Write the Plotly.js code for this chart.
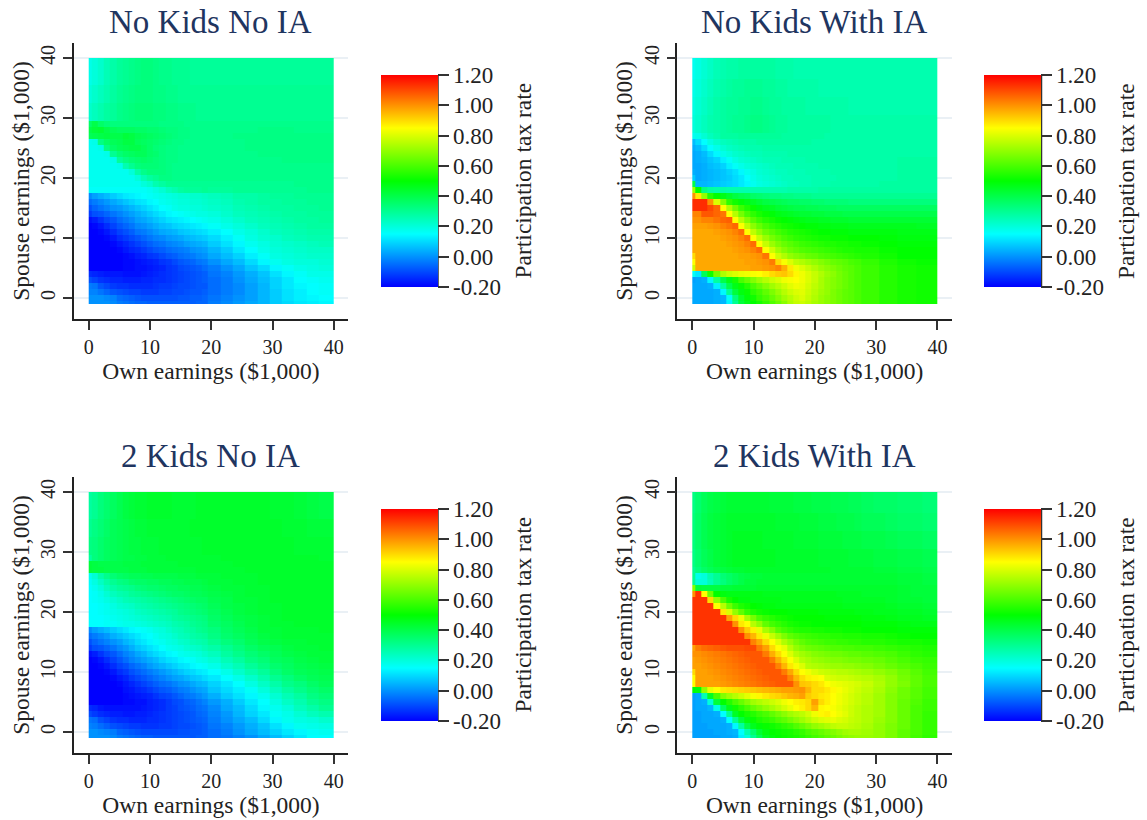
<!DOCTYPE html>
<html><head><meta charset="utf-8">
<script src="https://cdn.plot.ly/plotly-3.0.1.min.js"></script>
<style>html,body{margin:0;padding:0;background:#fff}</style></head>
<body><div id="chart" style="width:1147px;height:820px"></div>
<script>
const panelTitles = ["No Kids No IA","No Kids With IA","2 Kids No IA","2 Kids With IA"];
const xTitle = "Own earnings ($1,000)";
const yTitle = "Spouse earnings ($1,000)";
const barTitle = "Participation tax rate";
const barTickVals = [-0.2,0,0.2,0.4,0.6,0.8,1,1.2];
const barTickText = ["-0.20","0.00","0.20","0.40","0.60","0.80","1.00","1.20"];
const midX = [0,.5,1.5,2.5,3.5,4.5,5.5,6.5,7.5,8.5,9.5,10.5,11.5,12.5,13.5,14.5,15.5,16.5,17.5,18.5,19.5,21.5,23.5,25.5,27.5,29.5,31.5,33.5,35.5,37.5,40];
const midY = [-1,-.5,.5,1.5,2.5,3.5,4.5,5.5,6.5,7.5,8.5,9.5,10.5,11.5,12.5,13.5,14.5,15.5,16.5,17.5,18.5,19.5,20.5,21.5,22.5,23.5,24.5,25.5,26.5,27.5,28.5,29.5,32.5,35.5,40];
const fineX = [0,.5,1.5,2.5,3.5,4.5,5.5,6.5,7.5,8.5,9.5,10.5,11.5,12.5,13.5,14.5,15.5,16.5,17.5,18.5,19.5,20.5,21.5,22.5,23.5,24.5,25.5,26.5,27.5,30.5,33.5,36.5,40];
const fineX2 = [0,.5,1.5,2.5,3.5,4.5,5.5,6.5,7.5,8.5,9.5,10.5,11.5,12.5,13.5,14.5,15.5,16.5,17.5,18.5,19.5,20.5,21.5,22.5,23.5,24.5,25.5,26.5,27.5,29.5,31.5,33.5,35.5,37.5,40];
const fineY = [-1,-.5,.5,1.5,2.5,3.5,4.5,5.5,6.5,7.5,8.5,9.5,10.5,11.5,12.5,13.5,14.5,15.5,16.5,17.5,18.5,19.5,20.5,21.5,22.5,23.5,24.5,25.5,26.5,27.5,30.5,33.5,36.5,40];

// values in percent
const noKidsNoIA = [
[0,0,0,0,-1,-3,-4,-5,-6,-6,-7,-7,-7,-7,-7,-7,-7,-7,-6,-6,-3,-1,1,3,5,8,10,12,13,14],
[0,0,0,-1,-2,-5,-6,-7,-8,-9,-9,-9,-9,-9,-9,-8,-8,-7,-7,-6,-4,-2,0,2,5,8,11,13,14,15],
[-2,-2,-4,-6,-8,-9,-10,-11,-11,-12,-12,-12,-11,-11,-10,-10,-9,-8,-8,-7,-5,-3,-1,2,5,8,11,13,15,16],
[-3,-4,-8,-10,-12,-13,-13,-14,-14,-14,-14,-13,-12,-12,-11,-10,-10,-9,-8,-8,-5,-3,-1,2,5,9,12,14,15,16],
[-9,-11,-13,-14,-15,-15,-16,-16,-16,-15,-15,-14,-14,-13,-12,-11,-10,-9,-8,-7,-5,-3,0,3,6,9,12,15,16,17],
[-14,-15,-16,-17,-17,-17,-18,-18,-18,-17,-16,-15,-14,-13,-12,-11,-10,-9,-8,-7,-4,-2,1,4,7,11,14,16,18,18],
[-20,-20,-20,-20,-20,-20,-19,-19,-18,-18,-17,-16,-15,-13,-12,-10,-9,-8,-7,-5,-3,0,3,7,10,14,16,18,19,20],
[-20,-20,-20,-20,-20,-20,-19,-19,-18,-17,-16,-15,-13,-12,-10,-8,-7,-6,-4,-3,0,3,6,10,14,17,19,20,20,21],
[-20,-20,-20,-20,-20,-20,-19,-18,-16,-15,-13,-12,-10,-8,-7,-5,-4,-3,-1,0,3,6,9,13,16,19,20,21,22,22],
[-20,-20,-20,-20,-20,-19,-17,-15,-14,-12,-10,-8,-7,-5,-4,-3,-2,0,1,2,5,8,12,15,18,20,21,22,23,23],
[-20,-20,-20,-20,-19,-17,-15,-13,-11,-9,-7,-5,-4,-2,-1,0,2,3,4,5,8,11,14,17,19,21,22,23,24,25],
[-20,-20,-20,-19,-17,-14,-12,-10,-8,-6,-4,-2,-1,1,2,3,5,6,7,8,10,13,16,19,21,22,24,25,26,26],
[-20,-20,-19,-17,-14,-11,-9,-7,-4,-3,-1,1,3,4,5,7,8,9,10,11,13,15,18,20,22,24,25,26,27,27],
[-20,-19,-17,-14,-11,-8,-6,-4,-1,0,2,4,6,7,9,10,11,12,13,14,16,18,20,22,24,25,26,27,28,28],
[-18,-16,-13,-10,-8,-5,-3,-1,2,3,5,7,9,11,12,13,14,15,16,17,18,20,22,24,25,26,27,28,28,29],
[-12,-9,-8,-6,-4,-2,0,2,4,6,8,10,12,14,15,16,17,18,19,19,20,22,24,25,26,27,28,28,29,29],
[-9,-6,-4,-2,0,1,3,5,7,9,11,13,15,16,18,19,19,20,20,21,22,23,25,26,27,28,28,29,29,30],
[-5,-3,-1,1,3,5,7,9,11,12,14,15,17,18,19,20,20,21,21,22,23,24,26,27,28,28,29,29,30,30],
[-1,2,4,6,8,10,12,13,14,15,16,17,18,19,20,21,21,22,22,23,24,25,27,27,28,29,29,30,30,30],
[16,16,16,16,16,16,16,16,16,16,17,19,21,24,26,28,29,29,29,30,29,29,30,30,30,30,30,30,31,31],
[17,17,17,17,17,17,17,17,17,20,22,26,28,30,30,30,30,30,30,30,30,30,30,30,30,30,30,31,31,31],
[17,17,17,17,17,17,17,17,20,25,28,30,32,32,31,31,31,31,31,31,31,31,31,31,31,31,31,31,31,31],
[17,17,17,17,17,17,17,20,27,31,33,33,33,32,31,31,31,31,31,31,31,31,31,31,31,31,31,31,31,31],
[17,17,17,17,17,18,26,30,33,34,34,34,33,32,31,31,31,31,31,31,31,31,31,31,31,31,31,31,31,31],
[17,17,17,17,18,29,32,34,35,36,35,34,33,32,32,31,31,31,31,31,31,31,31,31,31,31,32,32,32,32],
[17,17,17,18,30,34,36,37,38,38,36,35,33,32,32,31,31,31,31,31,31,31,31,31,32,32,32,32,32,32],
[17,17,18,32,36,38,39,40,40,38,36,34,33,32,32,31,31,31,31,31,31,31,31,32,32,32,32,32,32,32],
[17,18,32,36,38,39,41,41,38,37,36,35,34,33,32,32,31,31,31,31,31,31,31,32,32,32,32,32,32,32],
[38,39,40,41,40,40,42,41,39,38,37,36,35,34,33,32,32,31,31,31,31,31,32,32,32,32,32,32,32,32],
[40,42,43,40,38,37,37,37,36,36,35,35,34,33,33,32,32,31,31,31,31,31,31,31,32,32,32,31,31,31],
[36,40,36,34,33,33,33,33,33,33,33,33,32,32,32,32,31,31,31,31,31,31,31,31,31,31,31,31,31,31],
[22,24,26,28,29,31,32,33,34,34,34,33,33,32,32,31,31,31,30,30,30,30,30,30,30,30,30,30,30,30],
[20,22,24,26,28,30,31,32,33,33,33,32,32,31,31,30,30,30,30,30,30,30,30,30,30,30,30,30,30,30],
[18,20,22,25,27,29,30,31,32,33,33,32,31,31,30,30,30,29,29,29,29,29,29,29,29,29,29,29,29,29]];

const twoKidsNoIA = [
[0,0,0,0,-1,-3,-4,-5,-6,-7,-7,-8,-8,-8,-8,-8,-8,-8,-7,-7,-5,-4,-2,0,3,6,9,12,15,15],
[0,0,-1,-2,-3,-6,-7,-8,-9,-10,-10,-10,-10,-10,-10,-9,-9,-8,-8,-7,-5,-3,0,3,6,9,12,14,16,17],
[-2,-3,-5,-7,-9,-10,-11,-12,-12,-13,-13,-13,-12,-12,-11,-10,-10,-9,-8,-7,-4,-2,1,4,7,11,14,17,18,19],
[-4,-5,-9,-11,-13,-14,-14,-15,-15,-15,-14,-14,-13,-12,-11,-10,-9,-8,-7,-6,-3,0,3,6,10,14,17,19,20,22],
[-10,-12,-14,-15,-16,-16,-17,-17,-16,-16,-15,-14,-13,-12,-11,-10,-9,-8,-6,-5,-2,1,5,9,12,16,18,21,24,26],
[-14,-15,-17,-18,-18,-18,-18,-18,-18,-17,-16,-15,-14,-12,-11,-9,-8,-7,-5,-4,-1,3,6,10,14,17,20,24,27,30],
[-20,-20,-20,-20,-20,-20,-19,-19,-18,-18,-16,-15,-14,-12,-10,-9,-7,-6,-4,-2,1,4,8,12,15,19,23,26,30,32],
[-20,-20,-20,-20,-20,-20,-19,-18,-17,-16,-15,-13,-11,-10,-8,-6,-4,-3,-1,1,4,8,11,14,17,21,25,28,32,34],
[-20,-20,-20,-20,-20,-20,-18,-17,-15,-14,-12,-10,-8,-7,-5,-3,-2,0,2,3,7,10,13,16,20,24,28,31,34,36],
[-20,-20,-20,-20,-20,-19,-17,-15,-13,-11,-9,-7,-5,-4,-2,0,1,3,5,6,9,12,15,19,23,27,31,33,36,38],
[-20,-20,-20,-20,-19,-17,-15,-12,-10,-8,-6,-4,-2,0,2,3,5,7,8,10,12,15,18,22,26,30,33,36,38,39],
[-20,-20,-20,-19,-17,-14,-12,-9,-7,-5,-3,-1,1,3,5,7,9,10,12,13,15,18,22,26,29,33,36,38,39,40],
[-20,-20,-19,-17,-14,-11,-9,-6,-4,-2,1,3,5,7,9,11,12,14,15,16,18,22,25,29,32,35,37,39,40,41],
[-20,-19,-17,-14,-11,-8,-5,-2,0,2,4,6,9,11,12,14,15,16,18,19,21,25,28,32,34,37,38,40,41,42],
[-18,-16,-13,-10,-8,-5,-2,0,3,5,8,10,12,14,15,17,18,19,20,22,24,28,31,34,36,38,40,41,42,42],
[-12,-9,-8,-6,-4,-1,1,4,7,9,11,13,15,17,18,19,21,22,23,25,27,30,33,36,38,39,41,42,42,43],
[-9,-6,-4,-2,0,2,5,7,10,12,14,16,17,19,20,22,23,25,26,27,30,33,35,38,40,41,42,42,43,43],
[-5,-3,-1,1,4,6,8,10,12,14,15,17,19,20,22,24,25,27,28,29,32,35,37,39,41,42,43,43,43,43],
[-1,2,4,6,8,10,12,14,15,16,17,19,20,22,24,25,27,28,30,31,33,36,38,40,42,42,43,43,43,44],
[15,15,15,16,16,17,18,18,19,20,21,22,23,24,26,27,28,30,31,32,35,37,39,41,42,43,43,44,44,44],
[15,15,15,16,17,18,19,20,21,22,23,24,25,26,28,29,30,31,32,33,36,38,40,41,42,43,44,44,44,44],
[15,15,16,17,18,19,20,21,23,24,25,26,27,28,29,31,32,33,34,35,37,39,41,42,43,43,44,44,44,44],
[15,15,16,17,19,21,22,23,25,26,27,28,29,30,31,32,33,34,35,36,38,40,41,42,43,43,44,44,44,44],
[15,16,17,19,21,23,25,26,27,28,29,30,31,32,33,34,35,36,37,37,39,40,42,42,43,44,44,44,44,44],
[15,16,18,21,24,26,27,29,30,31,32,33,34,35,36,36,37,38,38,39,40,41,42,43,43,44,44,44,44,44],
[15,17,20,24,27,29,30,31,33,34,35,35,36,37,37,38,38,39,39,40,41,42,42,43,43,44,44,44,44,44],
[16,19,23,27,30,32,33,35,36,36,37,37,38,38,39,39,40,40,40,41,42,42,43,43,44,44,44,44,44,44],
[17,21,27,31,34,36,37,38,38,39,39,40,40,40,40,41,41,41,42,42,42,43,43,43,44,44,44,44,44,44],
[42,41,41,40,40,40,40,41,41,41,42,42,42,42,42,42,42,42,43,43,43,43,43,44,44,44,44,44,44,44],
[42,41,40,40,40,40,41,41,41,42,42,42,42,42,42,43,43,43,43,43,43,43,44,44,44,44,44,44,44,44],
[28,33,35,37,38,39,40,40,41,41,42,42,42,43,43,43,43,43,43,43,43,44,44,44,44,44,44,44,44,43],
[32,33,35,37,38,39,40,41,41,42,42,42,43,43,43,43,43,43,43,44,44,44,44,44,44,44,44,43,43,43],
[30,32,34,36,38,39,40,41,42,42,43,43,43,43,43,43,43,44,44,44,44,44,44,44,44,44,43,43,42,42],
[28,30,33,35,37,39,41,42,43,43,44,44,44,44,43,43,43,43,44,44,44,44,44,44,44,43,43,42,41,40]];

const noKidsWithIA = [
[3,3,3,3,4,5,14,30,42,47,50,53,57,61,65,69,74,77,78,76,73,71,69,67,65,63,62,60,58,55,53,52],
[3,3,3,3,4,5,16,33,44,49,52,57,60,64,68,72,75,78,80,77,74,71,69,67,65,63,62,60,58,55,53,52],
[3,3,3,3,4,14,30,42,48,51,56,59,63,67,71,75,78,80,81,78,75,72,70,67,65,63,62,60,58,55,53,52],
[3,3,3,4,13,28,40,47,51,55,60,64,68,72,75,78,81,83,82,79,76,73,70,68,66,64,62,60,58,55,53,52],
[2,3,4,14,28,40,47,53,60,64,68,72,75,78,80,83,84,85,83,80,77,73,70,68,66,64,62,60,58,55,53,52],
[16,12,38,52,66,74,78,80,82,83,84,85,87,90,92,93,90,86,83,80,77,74,71,69,66,64,62,60,58,55,53,52],
[78,97,97,97,97,97,97,97,97,97,98,98,99,100,102,96,88,83,80,77,74,71,69,67,65,63,62,60,58,55,53,52],
[85,97,97,97,97,97,97,97,97,98,98,99,100,103,90,84,80,76,74,72,70,68,66,64,63,62,60,59,57,54,52,51],
[90,97,97,97,97,97,97,97,98,98,99,100,104,85,78,74,70,68,66,64,63,61,60,59,58,57,56,55,54,52,50,50],
[97,97,97,97,97,97,97,98,99,100,102,105,85,78,72,68,65,63,61,60,59,58,57,56,55,54,54,53,53,51,50,50],
[97,97,97,97,97,97,98,99,100,102,105,85,77,71,67,64,62,60,58,57,56,55,54,54,53,53,52,52,51,50,49,49],
[97,97,97,97,97,98,99,100,102,105,85,77,71,66,63,60,58,56,55,54,53,52,52,51,51,51,50,50,50,49,48,48],
[97,97,97,97,98,99,100,102,105,85,76,70,65,62,59,57,55,54,53,52,51,50,50,49,49,49,48,48,48,48,47,47],
[98,98,98,99,100,102,104,106,85,76,69,64,60,57,55,53,52,51,50,49,49,48,48,47,47,47,46,46,46,46,46,45],
[100,100,102,102,104,106,107,85,75,68,62,58,55,53,51,50,49,48,47,46,46,45,45,44,44,44,43,43,43,43,43,43],
[102,102,108,108,106,104,85,75,66,60,56,53,51,49,47,46,45,44,43,43,42,42,41,41,41,40,40,40,40,40,40,40],
[114,114,114,110,106,85,74,65,58,54,51,48,46,45,43,42,41,40,40,39,39,38,38,38,37,37,37,37,37,37,37,37],
[114,114,114,100,80,68,56,52,49,47,45,43,41,40,39,38,37,37,36,36,35,35,34,34,34,34,33,33,33,33,33,33],
[100,88,70,55,50,47,44,41,39,38,36,35,34,33,33,32,32,31,31,31,30,30,30,30,30,30,30,30,30,30,30,30],
[72,50,32,28,27,27,26,26,26,26,26,26,26,26,26,26,27,27,27,27,27,28,28,28,28,28,28,28,28,28,28,28],
[40,5,5,6,7,8,9,10,12,14,17,19,20,21,22,23,24,24,25,25,26,26,26,27,27,27,27,27,27,28,28,28],
[8,3,4,5,6,7,8,10,12,15,18,20,21,22,23,24,24,25,25,25,26,26,26,26,27,27,27,27,27,27,28,28],
[4,3,4,5,6,7,9,11,14,17,19,21,22,23,24,24,25,25,25,26,26,26,26,27,27,27,27,27,27,27,28,28],
[3,3,4,6,7,9,13,16,18,20,21,22,23,24,25,25,25,26,26,26,26,27,27,27,27,27,27,27,27,27,28,28],
[3,4,5,7,9,13,16,19,21,22,23,24,25,25,25,26,26,26,26,27,27,27,27,27,27,27,27,27,27,27,28,28],
[3,4,6,10,14,18,20,22,23,24,25,25,26,26,26,26,27,27,27,27,27,27,27,27,27,27,27,27,27,27,27,27],
[4,6,10,15,18,21,23,24,25,26,26,26,27,27,27,27,27,27,27,27,27,27,27,27,27,27,27,27,27,27,27,27],
[6,10,15,19,22,24,25,26,27,27,27,28,28,28,28,28,28,28,28,28,27,27,27,27,27,27,27,27,27,27,27,27],
[17,18,21,24,26,28,28,28,29,29,29,29,29,29,29,28,28,28,28,28,28,28,27,27,27,27,27,27,27,27,27,27],
[20,22,24,26,27,28,29,30,30,31,32,32,31,30,29,29,28,28,28,28,28,28,28,27,27,27,27,27,27,27,27,27],
[19,21,23,25,27,28,29,29,30,30,31,31,30,29,29,28,28,28,28,27,27,27,27,27,27,27,26,26,26,26,26,26],
[18,20,22,24,26,27,28,29,29,30,30,30,29,29,28,28,27,27,27,27,27,26,26,26,26,26,26,26,26,26,26,26],
[17,19,21,23,25,26,27,27,28,28,28,28,28,28,27,27,27,26,26,26,26,26,26,26,26,26,26,26,26,26,26,26]];

const twoKidsWithIA = [
[2,2,2,2,2,3,3,4,13,20,30,38,45,48,50,51,52,53,55,57,59,61,63,65,67,69,70,71,71,70,67,63,59,56],
[2,2,2,2,3,3,4,5,15,26,35,43,48,50,51,52,53,55,57,60,62,64,66,68,70,72,73,73,72,70,67,63,60,57],
[2,2,2,3,3,3,4,14,28,40,46,49,51,52,54,56,58,61,64,67,70,72,74,76,77,77,76,75,73,70,67,64,60,57],
[2,2,3,3,3,4,15,30,42,48,51,54,56,58,61,63,66,69,72,75,78,80,81,82,80,79,77,76,74,71,68,64,60,57],
[2,2,3,3,4,15,30,45,50,53,55,58,60,63,66,69,72,74,76,79,83,86,87,85,83,81,78,76,74,72,68,64,60,57],
[2,3,3,5,18,37,47,52,56,60,64,67,70,73,76,79,82,85,87,90,95,86,85,84,82,80,78,76,74,72,68,64,60,58],
[2,3,4,20,42,50,55,60,64,68,72,74,76,78,80,83,85,87,88,90,98,90,87,85,83,81,79,77,75,72,68,64,61,58],
[2,3,25,45,60,68,72,75,78,81,84,86,88,90,91,93,95,96,98,92,90,88,87,85,83,81,79,77,75,72,68,65,62,59],
[50,48,70,82,85,88,89,90,91,92,93,94,95,96,97,98,98,99,100,95,90,90,88,86,84,82,80,78,76,73,69,65,62,59],
[85,98,98,98,98,99,100,101,102,103,104,105,106,107,108,108,108,100,93,92,90,88,85,83,82,81,80,79,77,74,70,67,63,60],
[85,98,98,98,99,100,101,102,103,104,105,106,107,108,108,108,102,95,90,87,86,85,80,79,78,78,77,76,75,73,70,66,63,60],
[90,98,98,99,100,101,102,103,104,105,106,107,108,108,108,103,97,90,85,83,80,78,77,76,75,75,74,73,72,70,68,65,62,59],
[98,98,99,100,101,102,103,104,105,106,107,108,108,108,102,95,88,84,80,75,74,73,72,71,71,70,70,69,68,66,64,62,60,58],
[98,99,100,101,102,103,104,105,106,107,108,108,108,103,96,90,85,80,75,73,71,70,69,68,68,67,66,66,65,64,62,60,58,57],
[100,100,101,102,103,104,105,106,107,108,108,108,103,96,90,85,80,75,72,70,68,67,66,65,65,64,63,63,62,61,60,58,56,55],
[98,103,105,106,107,108,109,109,109,110,110,103,98,90,85,82,75,70,67,65,64,63,62,61,61,60,60,59,59,58,57,56,55,54],
[113,113,113,113,113,113,113,113,113,113,102,97,90,85,80,74,70,66,63,61,60,59,58,58,57,57,56,56,55,55,54,53,53,52],
[113,113,113,113,113,113,113,113,113,100,95,88,83,77,72,67,63,61,59,58,57,56,56,55,55,54,54,54,53,53,52,51,50,50],
[113,113,113,113,113,113,113,113,100,92,87,82,73,68,62,59,57,55,54,54,53,53,52,52,52,51,51,51,50,50,50,49,49,49],
[113,113,113,113,113,113,113,100,88,85,75,70,63,59,57,55,53,52,51,51,50,50,50,50,50,50,50,50,49,49,49,48,47,47],
[113,113,113,113,113,113,98,90,83,73,66,60,57,55,53,52,51,50,50,50,50,50,49,49,49,49,49,49,48,48,47,46,46,45],
[113,113,113,113,113,88,80,70,63,57,54,52,51,50,50,50,49,49,49,49,49,48,48,48,48,48,48,47,47,46,46,45,45,44],
[113,113,113,113,85,75,65,58,54,52,50,49,48,48,47,47,47,47,47,47,47,47,47,47,47,46,46,46,46,46,45,44,44,43],
[113,113,113,90,70,60,53,50,48,48,47,47,47,47,47,46,46,46,46,46,46,46,46,46,46,45,45,45,45,45,44,43,43,42],
[100,113,85,65,50,48,47,47,47,47,47,47,46,46,46,46,46,46,46,46,46,46,46,46,45,45,45,45,44,44,44,43,42,42],
[68,42,41,41,41,42,42,43,43,43,43,44,44,44,44,44,44,44,44,44,44,44,44,44,44,44,44,44,44,44,44,43,42,42],
[30,20,20,25,30,33,36,38,40,42,42,43,43,43,43,43,43,43,43,43,43,43,43,43,43,43,43,43,43,43,43,42,42,41],
[30,18,20,26,30,34,36,38,40,41,42,42,43,43,43,43,43,43,43,43,43,43,43,43,43,43,43,43,43,43,43,42,42,41],
[30,33,36,38,40,41,42,43,43,44,44,44,44,44,44,44,44,44,44,44,44,44,44,43,43,43,43,43,43,42,42,41,41,40],
[32,35,38,40,42,43,44,45,45,45,45,45,45,45,44,44,44,44,44,44,44,43,43,43,43,43,42,42,42,41,41,40,40,39],
[33,36,39,41,42,43,44,45,45,45,45,45,44,44,44,44,44,43,43,43,43,42,42,42,42,41,41,41,40,40,39,38,38,37],
[33,36,39,41,42,43,44,44,44,44,44,44,44,44,43,43,43,43,42,42,42,41,41,41,40,40,40,39,38,38,37,36,36,35],
[32,35,38,40,41,42,43,43,43,43,43,43,43,42,42,42,42,41,41,41,40,40,40,39,39,39,38,38,37,36,36,35,35,34]];

const W = 1147, H = 820, FONT = "Liberation Serif, Times New Roman, serif";
const SCALE = [[0,"#0000ff"],[0.25,"#00ffff"],[0.5,"#00ff00"],[0.75,"#ffff00"],[1,"#ff0000"]];
const panels = [
 {z:noKidsNoIA,  x:midX,  y:midY, left:73.7, bottom:319,barX:380.5,barTop:75},
 {z:noKidsWithIA,x:fineX, y:fineY,left:677.3,bottom:319,barX:984,  barTop:75},
 {z:twoKidsNoIA, x:midX,  y:midY, left:73.7, bottom:753,barX:380.5,barTop:509},
 {z:twoKidsWithIA,x:fineX2,y:fineY,left:677.3,bottom:753,barX:984,  barTop:509}
];
const traces=[], layout={width:W,height:H,margin:{l:0,r:0,t:0,b:0},paper_bgcolor:"#fff",plot_bgcolor:"#fff",
  font:{family:FONT,color:"#222"},annotations:[],shapes:[],showlegend:false};
panels.forEach((p,i)=>{
  const n=i+1, xa="xaxis"+(n>1?n:""), ya="yaxis"+(n>1?n:"");
  traces.push({type:"heatmap",x:p.x,y:p.y,z:p.z.map(r=>r.map(v=>v/100)),xaxis:"x"+(n>1?n:""),yaxis:"y"+(n>1?n:""),
    zmin:-0.2,zmax:1.2,colorscale:SCALE,zsmooth:false,hoverinfo:"skip",
    colorbar:{x:p.barX/W,xanchor:"left",y:1-p.barTop/H,yanchor:"top",lenmode:"pixels",len:212,thicknessmode:"pixels",thickness:57,
      xpad:0,ypad:0,outlinewidth:0,tickmode:"array",tickvals:barTickVals,ticktext:barTickText,ticks:"outside",ticklen:11,tickwidth:1.5,
      tickcolor:"#333",tickfont:{family:FONT,size:23,color:"#222"}}});
  const right=p.left+274.5, top=p.bottom-276;
  layout[xa]={domain:[p.left/W,right/W],range:[-2.45,42.35],anchor:"y"+(n>1?n:""),tickvals:[0,10,20,30,40],ticks:"outside",ticklen:9,tickwidth:1.5,tickcolor:"#333",
    showline:true,linecolor:"#222",linewidth:1.5,showgrid:false,zeroline:false,tickfont:{family:FONT,size:20,color:"#222"},
    title:{text:xTitle,font:{family:FONT,size:23.5,color:"#222"},standoff:3}};
  layout[ya]={domain:[1-p.bottom/H,1-top/H],range:[-3.5,42.5],anchor:"x"+(n>1?n:""),tickvals:[0,10,20,30,40],ticks:"outside",ticklen:9,tickwidth:1.5,tickcolor:"#333",tickangle:-90,
    showline:true,linecolor:"#222",linewidth:1.5,showgrid:true,gridcolor:"#eaf0f5",gridwidth:2,zeroline:false,tickfont:{family:FONT,size:20,color:"#222"},
    title:{text:yTitle,font:{family:FONT,size:23.5,color:"#222"},standoff:1}};
  layout.annotations.push({xref:"paper",yref:"paper",x:(p.left+137)/W,y:1-(p.bottom-297)/H,text:panelTitles[i],showarrow:false,xanchor:"center",yanchor:"middle",
    font:{family:FONT,size:33,color:"#1f3560"}});
  layout.annotations.push({xref:"paper",yref:"paper",x:(p.barX+142)/W,y:1-(p.barTop+106)/H,text:barTitle,textangle:-90,showarrow:false,xanchor:"center",yanchor:"middle",
    font:{family:FONT,size:23.5,color:"#222"}});
  layout.shapes.push({type:"line",xref:"paper",yref:"paper",x0:(p.barX+57.5)/W,x1:(p.barX+57.5)/W,y0:1-p.barTop/H,y1:1-(p.barTop+212)/H,line:{color:"#333",width:1.5}});
});
Plotly.newPlot("chart",traces,layout,{displayModeBar:false,responsive:false});
</script></body></html>
